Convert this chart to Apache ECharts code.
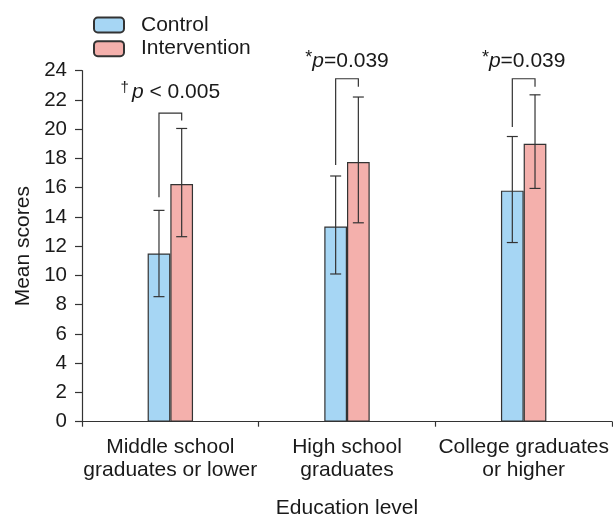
<!DOCTYPE html>
<html>
<head>
<meta charset="utf-8">
<script src="https://cdn.jsdelivr.net/npm/echarts@6/dist/echarts.min.js"></script>
<style>html,body{margin:0;padding:0;background:#fff}#c{width:613px;height:514px}</style>
</head>
<body>
<div id="c"></div>
<script>
// ---- data ----
var categories = ['Middle school\ngraduates or lower', 'High school\ngraduates', 'College graduates\nor higher'];
var controlMean = [11.5, 13.35, 15.8];
var controlLow = [8.55, 10.1, 12.25];
var controlHigh = [14.45, 16.8, 19.5];
var interventionMean = [16.25, 17.75, 19.0];
var interventionLow = [12.65, 13.6, 15.95];
var interventionHigh = [20.05, 22.2, 22.35];
var bracketTop = [21.1, 23.45, 23.45];
var bracketLeftEnd = [15.35, 17.55, 20.15];
var bracketRightEnd = [20.6, 22.9, 22.9];
var pMarks = ['\u2020', '*', '*'];
var pTexts = [' < 0.005', '=0.039', '=0.039'];
var yTicks = [0, 24, 2]; // min, max, interval

var FONT = "'Liberation Sans', Arial, sans-serif";
var TXT = '#1a1a1a';
var LINE = '#333333';
var BAR_W = 22.7;
var FS = 21;

var chart = echarts.init(document.getElementById('c'), null, {renderer: 'canvas'});

function errData(low, high) {
  return low.map(function (l, i) { return [i, l, high[i]]; });
}
function errRender(side) {
  return function (params, api) {
    var i = api.value(0);
    var lo = api.coord([i, api.value(1)]);
    var hi = api.coord([i, api.value(2)]);
    var x = lo[0] + side * BAR_W / 2;
    var cap = 5.5;
    var st = {stroke: LINE, lineWidth: 1.2};
    return {
      type: 'group',
      children: [
        {type: 'line', shape: {x1: x, y1: lo[1], x2: x, y2: hi[1]}, style: st},
        {type: 'line', shape: {x1: x - cap, y1: lo[1], x2: x + cap, y2: lo[1]}, style: st},
        {type: 'line', shape: {x1: x - cap, y1: hi[1], x2: x + cap, y2: hi[1]}, style: st}
      ]
    };
  };
}

var bracketData = bracketTop.map(function (t, i) { return [i, t, bracketLeftEnd[i], bracketRightEnd[i]]; });

chart.setOption({
  animation: false,
  textStyle: {fontFamily: FONT},
  grid: {left: 82, right: 1, top: 70.7, bottom: 92.3, containLabel: false, outerBoundsMode: 'none'},
  legend: {
    data: ['Control', 'Intervention'],
    orient: 'vertical',
    left: 93,
    top: 14.5,
    padding: 0,
    itemWidth: 30,
    itemHeight: 15,
    itemGap: 2.7,
    textStyle: {fontSize: FS, color: TXT, fontFamily: FONT, lineHeight: 21, padding: [0, 0, 0, 12]}
  },
  xAxis: {
    type: 'category',
    data: categories,
    name: 'Education level',
    nameLocation: 'middle',
    nameGap: 76,
    nameTextStyle: {fontSize: FS, color: TXT, fontFamily: FONT},
    axisLine: {lineStyle: {color: LINE, width: 1.2}},
    axisTick: {show: true, length: 5, inside: false, lineStyle: {color: LINE, width: 1.2}},
    axisLabel: {fontSize: FS, color: TXT, fontFamily: FONT, lineHeight: 23, margin: 14, interval: 0}
  },
  yAxis: {
    type: 'value',
    min: yTicks[0], max: yTicks[1], interval: yTicks[2],
    name: 'Mean scores',
    nameLocation: 'middle',
    nameGap: 47,
    nameTextStyle: {fontSize: FS, color: TXT, fontFamily: FONT},
    axisLine: {show: true, lineStyle: {color: LINE, width: 1.2}},
    axisTick: {show: true, length: 7, inside: false, lineStyle: {color: LINE, width: 1.2}},
    axisLabel: {fontSize: 20.5, color: TXT, fontFamily: FONT, margin: 15},
    splitLine: {show: false}
  },
  series: [
    {
      name: 'Control', type: 'bar', data: controlMean, barWidth: BAR_W, barGap: '0%',
      itemStyle: {color: '#a6d6f4', borderColor: LINE, borderWidth: 1.2}
    },
    {
      name: 'Intervention', type: 'bar', data: interventionMean, barWidth: BAR_W, barGap: '0%',
      itemStyle: {color: '#f4b0ac', borderColor: LINE, borderWidth: 1.2}
    },
    {
      name: 'errC', type: 'custom', data: errData(controlLow, controlHigh), renderItem: errRender(-1), z: 5, clip: false, silent: true
    },
    {
      name: 'errI', type: 'custom', data: errData(interventionLow, interventionHigh), renderItem: errRender(1), z: 5, clip: false, silent: true
    },
    {
      name: 'brackets', type: 'custom', data: bracketData, z: 5, clip: false, silent: true,
      renderItem: function (params, api) {
        var i = api.value(0);
        var top = api.coord([i, api.value(1)]);
        var lEnd = api.coord([i, api.value(2)]);
        var rEnd = api.coord([i, api.value(3)]);
        var xL = top[0] - BAR_W / 2, xR = top[0] + BAR_W / 2;
        var idx = params.dataIndex;
        var dagger = pMarks[idx] === '\u2020';
        return {
          type: 'group',
          children: [
            {type: 'polyline', shape: {points: [[xL, lEnd[1]], [xL, top[1]], [xR, top[1]], [xR, rEnd[1]]]},
             style: {stroke: LINE, lineWidth: 1.2, fill: null}},
            {type: 'text', x: top[0], y: top[1] - (dagger ? 21 : 18),
             style: {
               text: '{s|' + pMarks[idx] + '}{i|p}{n|' + pTexts[idx] + '}',
               align: 'center', verticalAlign: 'middle',
               rich: {
                 s: {fontSize: dagger ? 15 : 18, fontFamily: FONT, fill: TXT, verticalAlign: 'top', lineHeight: 23, padding: [0, dagger ? 3 : 0, dagger ? 8 : 6, 0]},
                 i: {fontSize: FS, fontStyle: 'italic', fontFamily: FONT, fill: TXT, lineHeight: 23},
                 n: {fontSize: FS, fontFamily: FONT, fill: TXT, lineHeight: 23}
               }
             }}
          ]
        };
      }
    }
  ]
});
</script>
</body>
</html>
